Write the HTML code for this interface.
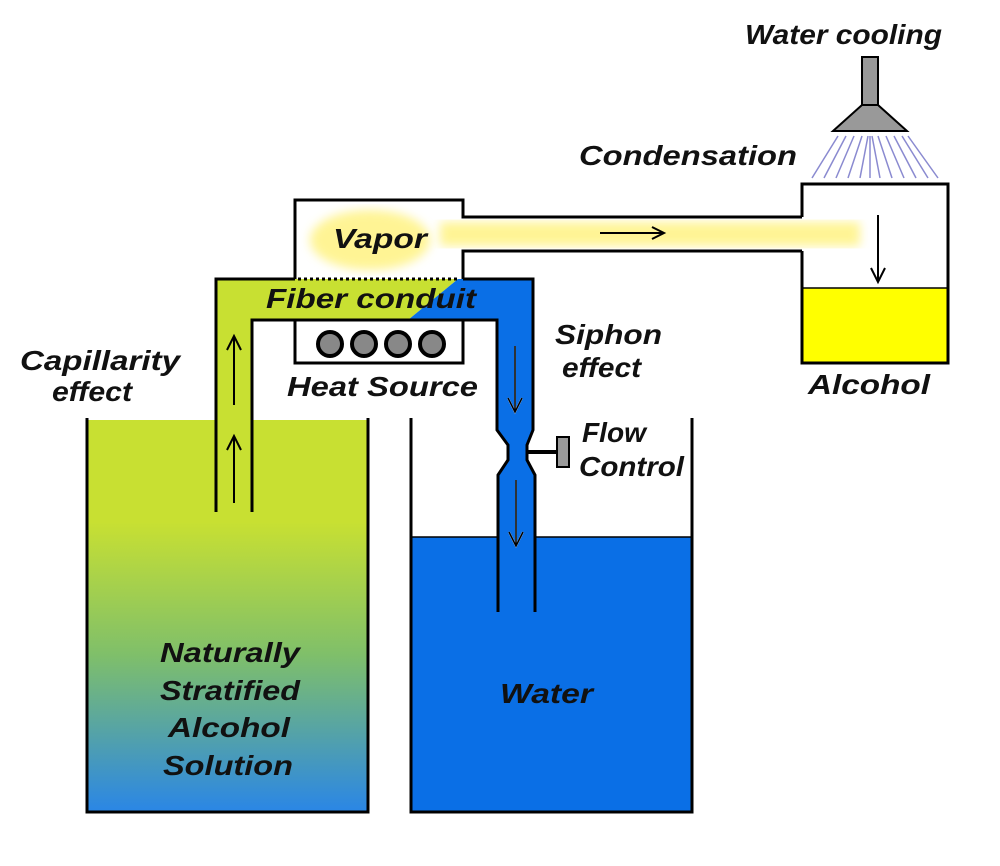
<!DOCTYPE html>
<html><head><style>
body{margin:0;background:#fff}
svg text{font-family:"Liberation Sans",sans-serif;font-weight:bold;font-style:italic;fill:#111}
</style></head><body>
<svg width="1000" height="861" viewBox="0 0 1000 861">
<defs>
<linearGradient id="g" x1="0" y1="0" x2="0" y2="1">
<stop offset="0" stop-color="#c8e032"/><stop offset="0.26" stop-color="#c8e032"/>
<stop offset="0.6" stop-color="#7fbf6a"/><stop offset="1" stop-color="#2a86e6"/>
</linearGradient>
<filter id="blur"><feGaussianBlur stdDeviation="5"/></filter>
</defs>
<rect x="87" y="420" width="281" height="392" fill="url(#g)"/>
<path d="M87 418 V812 H368 V418" fill="none" stroke="#000" stroke-width="3"/>
<rect x="411" y="537" width="281" height="275" fill="#0a6fe6"/>
<line x1="411" y1="537" x2="692" y2="537" stroke="#000" stroke-width="1.5"/>
<path d="M411 418 V812 H692 V418" fill="none" stroke="#000" stroke-width="3"/>
<rect x="295" y="200" width="168" height="79" fill="#fff"/>
<ellipse cx="370" cy="240" rx="60" ry="30" fill="#fff27a" filter="url(#blur)" opacity="0.8"/>
<rect x="440" y="222" width="420" height="24" fill="#fff27a" filter="url(#blur)" opacity="0.8"/>
<path d="M295 279 V200 H463 V217 H802" fill="none" stroke="#000" stroke-width="3"/>
<path d="M463 279 V251 H802" fill="none" stroke="#000" stroke-width="3"/>
<path d="M216 512 V279 H458 L408 320 H252 V512 Z" fill="#c8e032"/>
<path d="M458 279 H533 V430 L527 445 V460 L535 475 V612 H498 V475 L508 460 V445 L498 430 V320 H408 Z" fill="#0a6fe6"/>
<path d="M216 512 V279 H295 M463 279 H533 V430 L527 445 V460 L535 475 V612" fill="none" stroke="#000" stroke-width="3"/>
<path d="M252 512 V320 H497 V430 L508 445 V460 L498 475 V612" fill="none" stroke="#000" stroke-width="3"/>
<line x1="298" y1="279" x2="460" y2="279" stroke="#000" stroke-width="3" stroke-dasharray="3,3"/>
<path d="M295 320 V363 H463 V320" fill="none" stroke="#000" stroke-width="3"/>
<g fill="#888" stroke="#000" stroke-width="4">
<circle cx="330" cy="344" r="12"/><circle cx="364" cy="344" r="12"/><circle cx="398" cy="344" r="12"/><circle cx="432" cy="344" r="12"/>
</g>
<g stroke="#000" stroke-width="2" fill="none">
<path d="M234 405 V336 M227 350 L234 336 L241 350"/>
<path d="M234 503 V436 M227 450 L234 436 L241 450"/>
<path d="M600 233 H664 M652 227 L664 233 L652 239"/>
<path d="M878 215 V282 M871 268 L878 282 L885 268"/>
</g>
<g stroke="#bcd" stroke-width="2" fill="none">
<path d="M515 346 V412 M508 398 L515 412 L522 398"/>
<path d="M516 480 V546 M509 532 L516 546 L523 532"/>
</g>
<g stroke="#000" stroke-width="1.5" fill="none">
<path d="M515 346 V412 M508 398 L515 412 L522 398"/>
<path d="M516 480 V546 M509 532 L516 546 L523 532"/>
</g>
<line x1="527" y1="452" x2="558" y2="452" stroke="#000" stroke-width="4"/>
<rect x="557" y="437" width="12" height="30" fill="#999" stroke="#000" stroke-width="2"/>
<rect x="802" y="288" width="146" height="75" fill="#ffff00"/>
<line x1="802" y1="288" x2="948" y2="288" stroke="#000" stroke-width="1.5"/>
<path d="M802 217 V184 H948 V363 H802 V251" fill="none" stroke="#000" stroke-width="3"/>
<rect x="862" y="57" width="16" height="50" fill="#999" stroke="#000" stroke-width="2"/>
<path d="M862 105 H878 L907 131 H833 Z" fill="#999" stroke="#000" stroke-width="2"/>
<g stroke="#8a8ad0" stroke-width="1.5">
<line x1="838" y1="136" x2="812" y2="178"/><line x1="846" y1="136" x2="824" y2="178"/>
<line x1="854" y1="136" x2="836" y2="178"/><line x1="862" y1="136" x2="848" y2="178"/>
<line x1="868" y1="136" x2="860" y2="178"/><line x1="870" y1="136" x2="870" y2="178"/>
<line x1="872" y1="136" x2="880" y2="178"/><line x1="878" y1="136" x2="892" y2="178"/>
<line x1="886" y1="136" x2="904" y2="178"/><line x1="894" y1="136" x2="916" y2="178"/>
<line x1="902" y1="136" x2="928" y2="178"/><line x1="908" y1="136" x2="938" y2="178"/>
</g>
<g font-size="28" lengthAdjust="spacingAndGlyphs">
<text x="745" y="44" textLength="197" lengthAdjust="spacingAndGlyphs">Water cooling</text>
<text x="579" y="165" textLength="218" lengthAdjust="spacingAndGlyphs">Condensation</text>
<text x="333" y="248" textLength="94" lengthAdjust="spacingAndGlyphs">Vapor</text>
<text x="266" y="308" textLength="210" lengthAdjust="spacingAndGlyphs">Fiber conduit</text>
<text x="287" y="396" textLength="191" lengthAdjust="spacingAndGlyphs">Heat Source</text>
<text x="20" y="370" textLength="160" lengthAdjust="spacingAndGlyphs">Capillarity</text>
<text x="52" y="401" textLength="80" lengthAdjust="spacingAndGlyphs">effect</text>
<text x="555" y="344" textLength="107" lengthAdjust="spacingAndGlyphs">Siphon</text>
<text x="562" y="377" textLength="79" lengthAdjust="spacingAndGlyphs">effect</text>
<text x="582" y="442" textLength="64" lengthAdjust="spacingAndGlyphs">Flow</text>
<text x="579" y="476" textLength="105" lengthAdjust="spacingAndGlyphs">Control</text>
<text x="808" y="394" textLength="122" lengthAdjust="spacingAndGlyphs">Alcohol</text>
<text x="500" y="703" textLength="93" lengthAdjust="spacingAndGlyphs">Water</text>
<text x="160" y="662" textLength="140" lengthAdjust="spacingAndGlyphs">Naturally</text>
<text x="160" y="700" textLength="140" lengthAdjust="spacingAndGlyphs">Stratified</text>
<text x="168" y="737" textLength="122" lengthAdjust="spacingAndGlyphs">Alcohol</text>
<text x="163" y="775" textLength="130" lengthAdjust="spacingAndGlyphs">Solution</text>
</g>
</svg>
</body></html>
